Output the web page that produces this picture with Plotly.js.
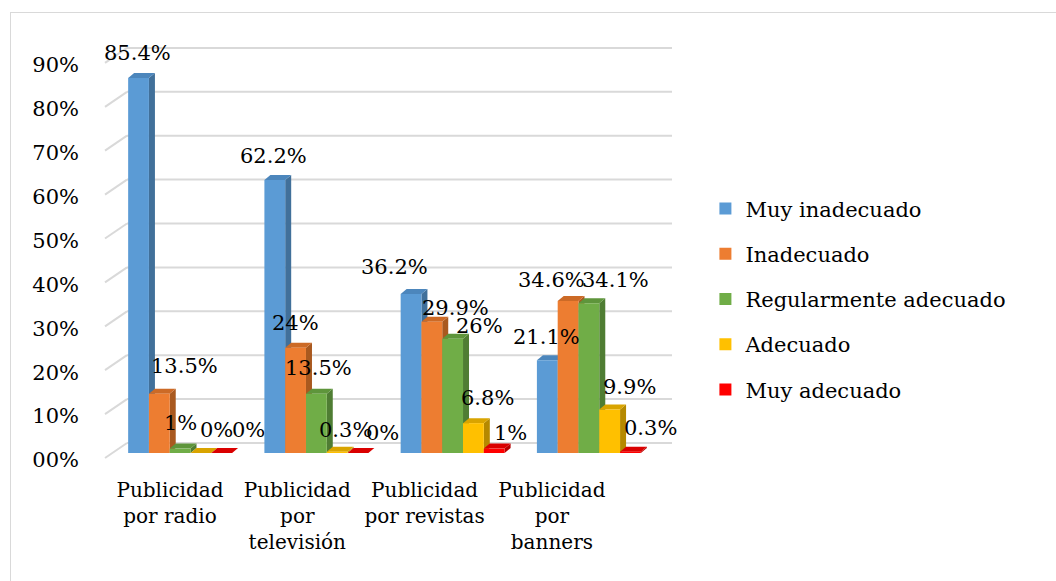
<!DOCTYPE html>
<html>
<head>
<meta charset="utf-8">
<script src="https://cdn.plot.ly/plotly-3.0.1.min.js"></script>
<style>
  html, body { margin:0; padding:0; background:#fff; }
  #chart { width:1056px; height:581px; position:relative; }
  #frame { position:absolute; left:10px; top:12px; width:1100px; height:620px;
           border:1.5px solid #d9d9d9; pointer-events:none; }
</style>
</head>
<body>
<div id="wrap" style="position:relative;width:1056px;height:581px;overflow:hidden">
  <div id="chart"></div>
  <div id="frame"></div>
</div>
<script>
// ---------- data ----------
const categories = ["Publicidad<br>por radio", "Publicidad<br>por<br>televisión", "Publicidad<br>por revistas", "Publicidad<br>por<br>banners"];
const seriesNames = ["Muy inadecuado", "Inadecuado", "Regularmente adecuado", "Adecuado", "Muy adecuado"];
const muyInadecuado = [85.4, 62.2, 36.2, 21.1];
const inadecuado = [13.5, 24, 29.9, 34.6];
const regularmente = [1, 13.5, 26, 34.1];
const adecuado = [0, 0.3, 6.8, 9.9];
const muyAdecuado = [0, 0, 1, 0.3];
const yTickVals = [0, 10, 20, 30, 40, 50, 60, 70, 80, 90];
const yTickText = ["00%", "10%", "20%", "30%", "40%", "50%", "60%", "70%", "80%", "90%"];

// ---------- styles ----------
const seriesValues = [muyInadecuado, inadecuado, regularmente, adecuado, muyAdecuado];
const frontColors = ["#5B9BD5", "#ED7D31", "#70AD47", "#FFC000", "#FF0000"];
const sideColors  = ["#41709A", "#A9591F", "#4F7D33", "#B58900", "#B80000"];
const topColors   = ["#4C86BC", "#CC6A26", "#5E953B", "#D9A400", "#DA0000"];
// label nudges in pixels (per series, per category)
const labelDX = [[-1,-1,-17,-1],[25,0,24,-17],[0,2,27,27],[16,8,14,20],[27,25,16,20]];
const labelDY = [[25,24,27,23],[28,25,14,21],[26,26,13,23],[23,22,25,23],[23,20,16,24]];

const FONT = "DejaVu Serif";
const FS = 21;
const W = 1056, H = 581;
// pixel geometry of the bar plane
const pxUnitX = 136.25;      // px per category
const pxPer1 = 4.39;         // px per 1%
const plotL = 100, plotR = 680, plotT = 14, plotB = 470;
const x0px = 112;            // px of x=-0.5
const y0px = 453;            // px of y=0
const xRange = [-0.5 - (x0px - plotL) / pxUnitX, -0.5 + (plotR - x0px) / pxUnitX];
const yRange = [-(plotB - y0px) / pxPer1, (y0px - plotT) / pxPer1];
// category label axis
const lab0 = 170, labStep = 127.3;
const x2Range = [-(lab0 - plotL) / labStep, (plotR - lab0) / labStep];

const nS = seriesNames.length;
const bargap = 0.237;
const bw = (1 - bargap) / nS;
const depthX = 6 / pxUnitX, depthY = 5 / pxPer1;
const backX = 15 / pxUnitX, backY = 10 / pxPer1;
const frontX = 7 / pxUnitX, frontY = 5 / pxPer1;

const idx = categories.map((_, i) => i);
const traces = seriesValues.map((vals, j) => ({
  type: "bar", name: seriesNames[j], x: idx, y: vals,
  marker: { color: frontColors[j], line: { width: 0 } },
  legendgroup: "g" + j, hoverinfo: "skip"
}));
traces.push({ type: "scatter", x: idx, y: idx.map(() => null), xaxis: "x2", yaxis: "y",
  showlegend: false, hoverinfo: "skip", mode: "markers" });

const shapes = [];
const gridColor = "#d9d9d9";
yTickVals.forEach(v => {
  shapes.push({ type: "line", xref: "x", yref: "y", layer: "below",
    x0: -0.5 + backX, x1: 3.5 + backX, y0: v + backY, y1: v + backY,
    line: { color: gridColor, width: 2 } });
  shapes.push({ type: "line", xref: "x", yref: "y", layer: "below",
    x0: -0.5 - frontX, y0: v - frontY, x1: -0.5 + backX, y1: v + backY,
    line: { color: gridColor, width: 2 } });
});

idx.forEach(i => {
  seriesValues.forEach((vals, j) => {
    const v = vals[i];
    const xc = i + (j - (nS - 1) / 2) * bw;
    const L = xc - bw / 2, R = xc + bw / 2;
    shapes.push({ type: "path", xref: "x", yref: "y", layer: "below",
      path: `M${R},0 L${R + depthX},${depthY} L${R + depthX},${v + depthY} L${R},${v} Z`,
      fillcolor: sideColors[j], line: { width: 0 } });
    shapes.push({ type: "path", xref: "x", yref: "y", layer: "below",
      path: `M${L},${v} L${L + depthX},${v + depthY} L${R + depthX},${v + depthY} L${R},${v} Z`,
      fillcolor: topColors[j], line: { width: 0 } });
  });
});

const annotations = [];
idx.forEach(i => {
  seriesValues.forEach((vals, j) => {
    const xc = i + (j - (nS - 1) / 2) * bw;
    annotations.push({ xref: "x", yref: "y", x: xc, y: vals[i], text: vals[i] + "%",
      showarrow: false, xanchor: "center", yanchor: "middle",
      xshift: labelDX[j][i], yshift: labelDY[j][i],
      font: { family: FONT, size: FS, color: "#000" } });
  });
});

const layout = {
  width: W, height: H,
  margin: { l: plotL, r: W - plotR, t: plotT, b: H - plotB, pad: 0 },
  paper_bgcolor: "rgba(0,0,0,0)", plot_bgcolor: "rgba(0,0,0,0)",
  barmode: "group", bargap: bargap, bargroupgap: 0,
  font: { family: FONT, size: FS, color: "#000" },
  xaxis: { range: xRange, showticklabels: false, showgrid: false, zeroline: false,
           showline: false, ticks: "", fixedrange: true },
  xaxis2: { overlaying: "x", anchor: "y", side: "bottom", range: x2Range,
            tickmode: "array", tickvals: idx, ticktext: categories, tickangle: 0,
            showgrid: false, zeroline: false, showline: false, ticks: "",
            ticklabelstandoff: 6, tickfont: { family: FONT, size: 20, color: "#000" } },
  yaxis: { range: yRange, tickmode: "array", tickvals: yTickVals, ticktext: yTickText,
           showgrid: false, zeroline: false, showline: false, ticks: "",
           ticklabelshift: 7, ticklabelstandoff: 20,
           tickfont: { family: FONT, size: FS, color: "#000" } },
  showlegend: true,
  legend: { xref: "container", yref: "container", x: 0.668, y: 0.676,
            xanchor: "left", yanchor: "top", tracegroupgap: 15,
            bgcolor: "rgba(0,0,0,0)", itemclick: false,
            font: { family: FONT, size: FS, color: "#000" } },
  shapes: shapes, annotations: annotations
};

Plotly.newPlot("chart", traces, layout, { displayModeBar: false, staticPlot: true });
</script>
</body>
</html>
